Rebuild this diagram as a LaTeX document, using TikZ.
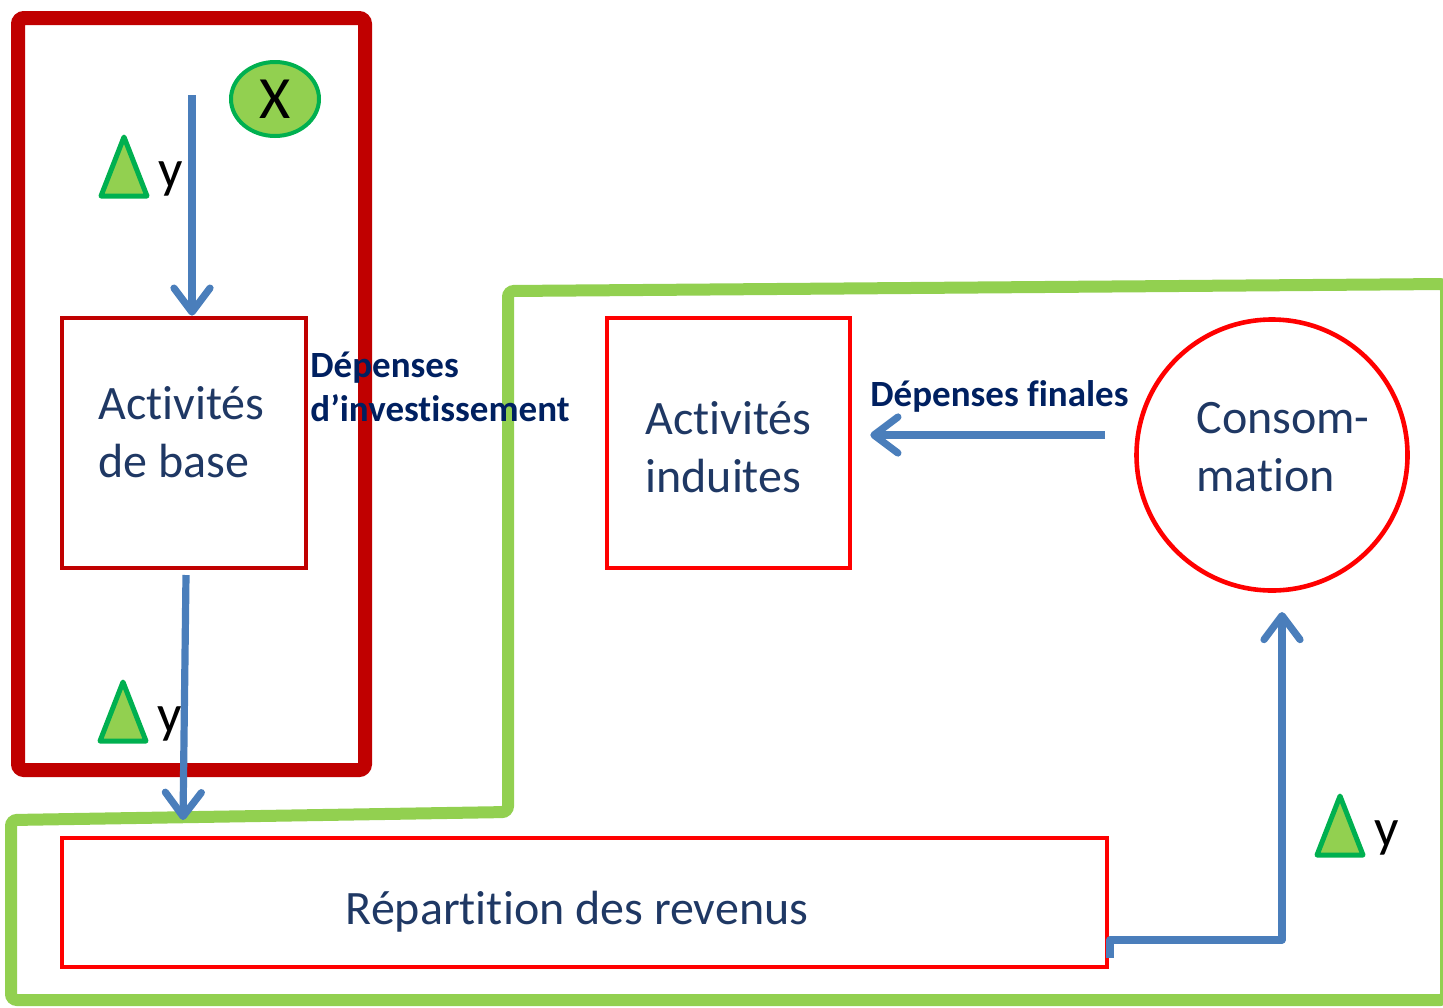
\documentclass[tikz,border=0pt]{standalone}
\usepackage{fontspec}
\setmainfont{Carlito}[Ligatures=NoCommon]
\usetikzlibrary{arrows.meta,shapes.geometric}

\definecolor{framered}{HTML}{C00000}
\definecolor{boxred}{HTML}{FF0000}
\definecolor{framegreen}{HTML}{92D050}
\definecolor{deltagreen}{HTML}{00B050}
\definecolor{arrowblue}{HTML}{4A7EBB}
\definecolor{textblue}{HTML}{1F3864}
\definecolor{labelblue}{HTML}{002060}

\tikzset{
  box/.style={draw=boxred,line width=2.3pt,inner sep=0pt},
  boxtext/.style={inner sep=0pt,align=left,text=textblue,font=\fontsize{24}{29}\selectfont},
  flow/.style={draw=arrowblue,line width=3.6pt,line join=round,
    -{Straight Barb[length=12pt,width=18pt,round]}},
  lbl/.style={text=labelblue,font=\bfseries\fontsize{18.5}{22}\selectfont,align=left,inner sep=0pt},
  delta/.style={draw=deltagreen,fill=framegreen,line width=2.5pt,line join=round},
  ylbl/.style={inner sep=0pt,font=\fontsize{27}{30}\selectfont}
}

\begin{document}
\begin{tikzpicture}[x=0.5pt,y=-0.5pt]
\useasboundingbox (0,0) rectangle (1443,1007);

% frames
\draw[draw=framegreen,line width=6pt,rounded corners=3pt]
  (11,1000) -- (11,820) -- (508,812) -- (508,291) -- (1446,284) -- (1446,1000) -- cycle;
\draw[draw=framered,line width=7pt,rounded corners=3pt] (18,18) rectangle (365,770);

% boxes
\node[box,draw=framered,minimum width=122pt,minimum height=125pt] (base) at (184,443) {};
\node[box,minimum width=121.5pt,minimum height=125pt] (ind) at (728.5,443) {};
\node[box,circle,minimum size=135.5pt] (cons) at (1272,455) {};
\node[box,minimum width=522.5pt,minimum height=64.5pt] (rep) at (584.5,902.5) {};

\node[boxtext,anchor=west] (baset) at (98,432) {Activités\\de base};
\node[boxtext,anchor=west] (indt) at (645,447) {Activités\\induites};
\node[boxtext,anchor=west] (const) at (1196,447) {Consom-\\mation};
\node[boxtext] (rept) at (577,912) {Répartition des revenus};

\node[ellipse,draw=deltagreen,fill=framegreen,line width=2pt,minimum width=44pt,minimum height=37pt,
  inner sep=0pt,font=\fontsize{30}{32}\selectfont] (X) at (275,99) {X};

% labels
\node[lbl,anchor=base west] (inv) at (310,421) {Dépenses\\d’investissement};
\node[lbl,anchor=base west] (fin) at (870,406) {Dépenses finales};

% delta y
\foreach \tx/\ty [count=\i] in {124/196,123/741,1340/855}{
  \draw[delta] (\tx-23,\ty) -- (\tx,\ty-59) -- (\tx+23,\ty) -- cycle;
  \node[ylbl,anchor=base west] (dy\i) at (\tx+34,\ty-9) {y};
}

% arrows
\coordinate (a1) at (192,95);
\draw[flow] (a1) -- (a1 |- base.north);
\coordinate (a2s) at (186,575);
\coordinate (a2e) at (183,820);
\draw[flow] (a2s) -- (a2e);
\coordinate (a3s) at (1105,435);
\draw[flow,shorten >=9pt] (a3s) -- (a3s -| ind.east);
\coordinate (a4s) at (1110,958);
\coordinate (a4e) at (1282,612);
\draw[flow] (a4s) -- ++(0,-18) -| (a4e);
\end{tikzpicture}
\end{document}
